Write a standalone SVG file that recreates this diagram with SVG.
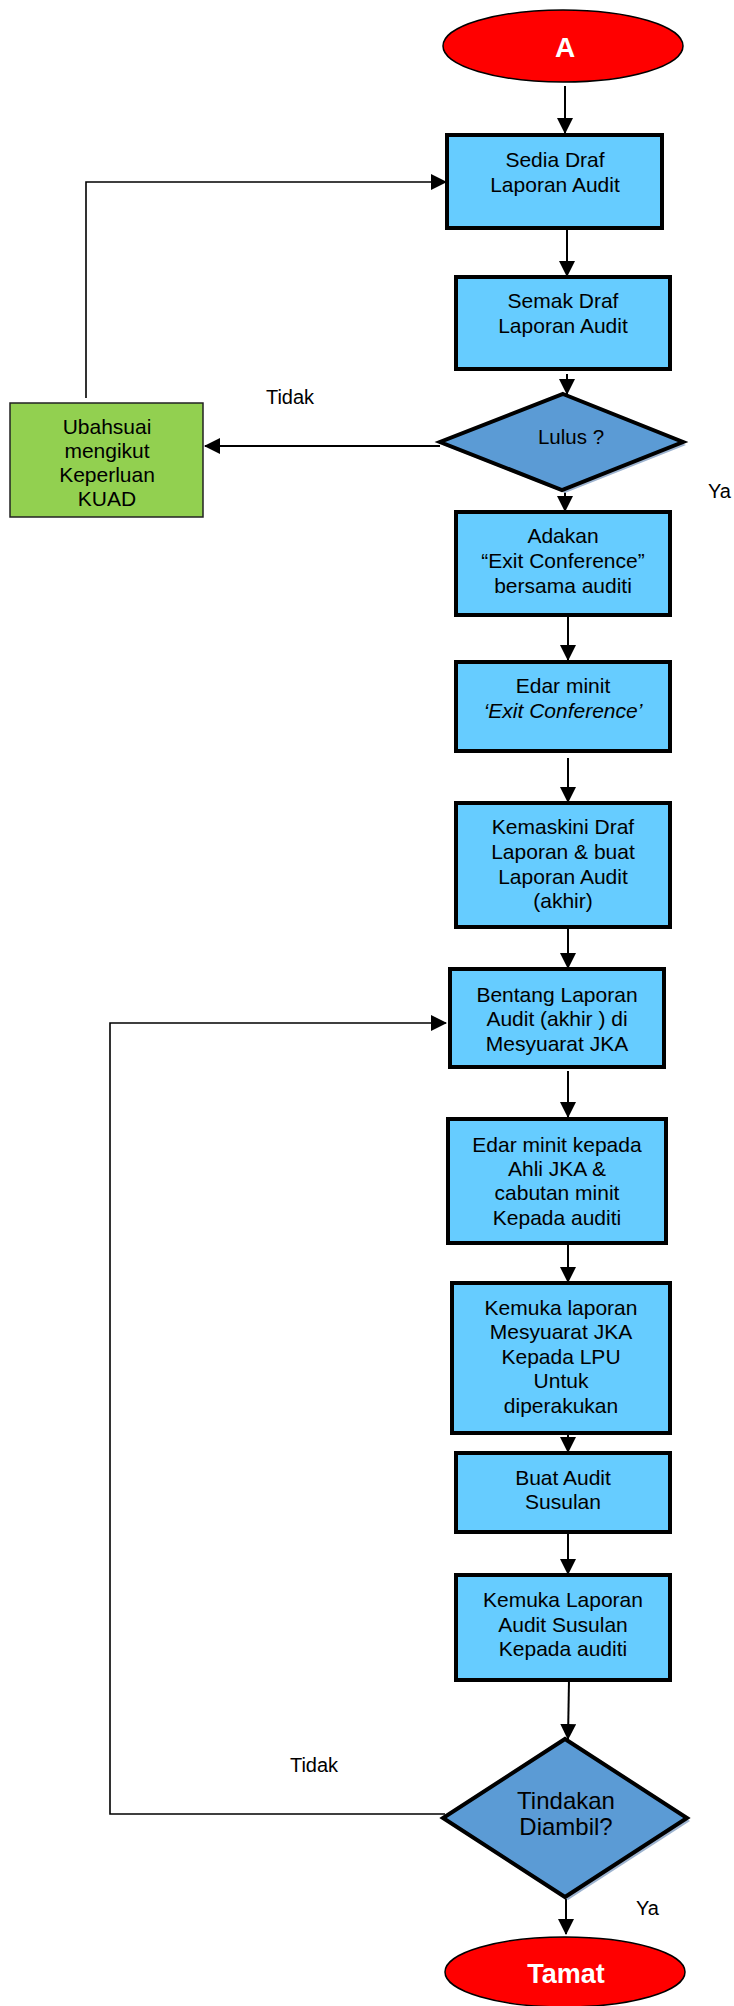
<svg xmlns="http://www.w3.org/2000/svg" width="734" height="2006" viewBox="0 0 734 2006">
<defs>
<marker id="ah" markerUnits="userSpaceOnUse" markerWidth="16" markerHeight="16" viewBox="0 0 16 16" refX="15" refY="8" orient="auto">
<path d="M0,0 L16,8 L0,16 Z" fill="#000"/>
</marker>
<style>
.box{fill:#66CCFF;stroke:#000;stroke-width:4}
.dia{fill:#5B9BD5;stroke:#000;stroke-width:4;stroke-linejoin:miter}
.sh{fill:#9DB3CF}
.term{fill:#FF0000;stroke:#000;stroke-width:1.5}
.grn{fill:#92D050;stroke:#222;stroke-width:1.5}
.t{font-family:"Liberation Sans",Arial,sans-serif;font-size:21px;fill:#000;text-anchor:middle}
.lbl{font-family:"Liberation Sans",Arial,sans-serif;font-size:20px;fill:#000}
.tw{font-family:"Liberation Sans",Arial,sans-serif;font-weight:bold;fill:#fff;text-anchor:middle}
.c{fill:none;stroke:#000;stroke-width:2}
.c2{fill:none;stroke:#000;stroke-width:1.6}
</style>
</defs>

<g id="connectors">
<line class="c" x1="565" y1="86" x2="565" y2="133" marker-end="url(#ah)"/>
<line class="c" x1="567" y1="230" x2="567" y2="276" marker-end="url(#ah)"/>
<line class="c" x1="567" y1="374" x2="567" y2="394" marker-end="url(#ah)"/>
<line class="c" x1="565" y1="490" x2="565" y2="511" marker-end="url(#ah)"/>
<line class="c" x1="440" y1="446" x2="205" y2="446" marker-end="url(#ah)"/>
<polyline class="c2" points="86,398 86,182 446,182" marker-end="url(#ah)"/>
<line class="c" x1="568" y1="615" x2="568" y2="660" marker-end="url(#ah)"/>
<line class="c" x1="568" y1="758" x2="568" y2="802" marker-end="url(#ah)"/>
<line class="c" x1="568" y1="927" x2="568" y2="968" marker-end="url(#ah)"/>
<line class="c" x1="568" y1="1071" x2="568" y2="1117" marker-end="url(#ah)"/>
<line class="c" x1="568" y1="1243" x2="568" y2="1282" marker-end="url(#ah)"/>
<line class="c" x1="568" y1="1433" x2="568" y2="1452" marker-end="url(#ah)"/>
<line class="c" x1="568" y1="1532" x2="568" y2="1574" marker-end="url(#ah)"/>
<line class="c" x1="569" y1="1680" x2="568" y2="1739" marker-end="url(#ah)"/>
<line class="c" x1="566" y1="1897" x2="566" y2="1934" marker-end="url(#ah)"/>
<polyline class="c2" points="445,1814 110,1814 110,1023 446,1023" marker-end="url(#ah)"/>
<text class="lbl" x="290" y="404" text-anchor="middle">Tidak</text>
<text class="lbl" x="708" y="498">Ya</text>
<text class="lbl" x="314" y="1772" text-anchor="middle">Tidak</text>
<text class="lbl" x="636" y="1915">Ya</text>
</g>

<g id="start">
<ellipse class="term" cx="563" cy="46" rx="120" ry="36"/>
<text class="tw" x="565" y="57" style="font-size:28px">A</text>
</g>

<g id="sedia">
<rect class="box" x="447" y="135" width="215" height="93"/>
<text class="t" x="555" y="167">Sedia Draf</text>
<text class="t" x="555" y="192">Laporan Audit</text>
</g>

<g id="semak">
<rect class="box" x="456" y="277" width="214" height="92"/>
<text class="t" x="563" y="308">Semak Draf</text>
<text class="t" x="563" y="333">Laporan Audit</text>
</g>

<g id="lulus">
<polygon class="sh" points="566,397 686,445 565,493 443,445"/>
<polygon class="dia" points="563,394 683,442 562,490 440,442"/>
<text class="t" x="571" y="444" style="font-size:20.5px">Lulus ?</text>
</g>

<g id="ubahsuai">
<rect class="grn" x="10" y="403" width="193" height="114"/>
<text class="t" x="107" y="434">Ubahsuai</text>
<text class="t" x="107" y="458">mengikut</text>
<text class="t" x="107" y="482">Keperluan</text>
<text class="t" x="107" y="506">KUAD</text>
</g>

<g id="adakan">
<rect class="box" x="456" y="512" width="214" height="103"/>
<text class="t" x="563" y="543">Adakan</text>
<text class="t" x="563" y="568">“Exit Conference”</text>
<text class="t" x="563" y="593">bersama auditi</text>
</g>

<g id="edar-minit">
<rect class="box" x="456" y="662" width="214" height="89"/>
<text class="t" x="563" y="693">Edar minit</text>
<text class="t" x="563" y="718" style="font-style:italic">‘Exit Conference’</text>
</g>

<g id="kemaskini">
<rect class="box" x="456" y="803" width="214" height="124"/>
<text class="t" x="563" y="834">Kemaskini Draf</text>
<text class="t" x="563" y="859">Laporan &amp; buat</text>
<text class="t" x="563" y="884">Laporan Audit</text>
<text class="t" x="563" y="908">(akhir)</text>
</g>

<g id="bentang">
<rect class="box" x="450" y="969" width="214" height="98"/>
<text class="t" x="557" y="1002">Bentang Laporan</text>
<text class="t" x="557" y="1026">Audit (akhir ) di</text>
<text class="t" x="557" y="1051">Mesyuarat JKA</text>
</g>

<g id="edar-kepada">
<rect class="box" x="448" y="1119" width="218" height="124"/>
<text class="t" x="557" y="1152">Edar minit kepada</text>
<text class="t" x="557" y="1176">Ahli JKA &amp;</text>
<text class="t" x="557" y="1200">cabutan minit</text>
<text class="t" x="557" y="1225">Kepada auditi</text>
</g>

<g id="kemuka-lpu">
<rect class="box" x="452" y="1283" width="218" height="150"/>
<text class="t" x="561" y="1315">Kemuka laporan</text>
<text class="t" x="561" y="1339">Mesyuarat JKA</text>
<text class="t" x="561" y="1364">Kepada LPU</text>
<text class="t" x="561" y="1388">Untuk</text>
<text class="t" x="561" y="1413">diperakukan</text>
</g>

<g id="buat-susulan">
<rect class="box" x="456" y="1453" width="214" height="79"/>
<text class="t" x="563" y="1485">Buat Audit</text>
<text class="t" x="563" y="1509">Susulan</text>
</g>

<g id="kemuka-susulan">
<rect class="box" x="456" y="1575" width="214" height="105"/>
<text class="t" x="563" y="1607">Kemuka Laporan</text>
<text class="t" x="563" y="1632">Audit Susulan</text>
<text class="t" x="563" y="1656">Kepada auditi</text>
</g>

<g id="tindakan">
<polygon class="sh" points="568,1742 690,1821 568,1900 446,1821"/>
<polygon class="dia" points="565,1739 687,1818 565,1897 443,1818"/>
<text class="t" x="566" y="1809" style="font-size:24px">Tindakan</text>
<text class="t" x="566" y="1835" style="font-size:24px">Diambil?</text>
</g>

<g id="end">
<ellipse class="term" cx="565" cy="1972" rx="120" ry="35"/>
<text class="tw" x="566" y="1983" style="font-size:27px">Tamat</text>
</g>
</svg>
